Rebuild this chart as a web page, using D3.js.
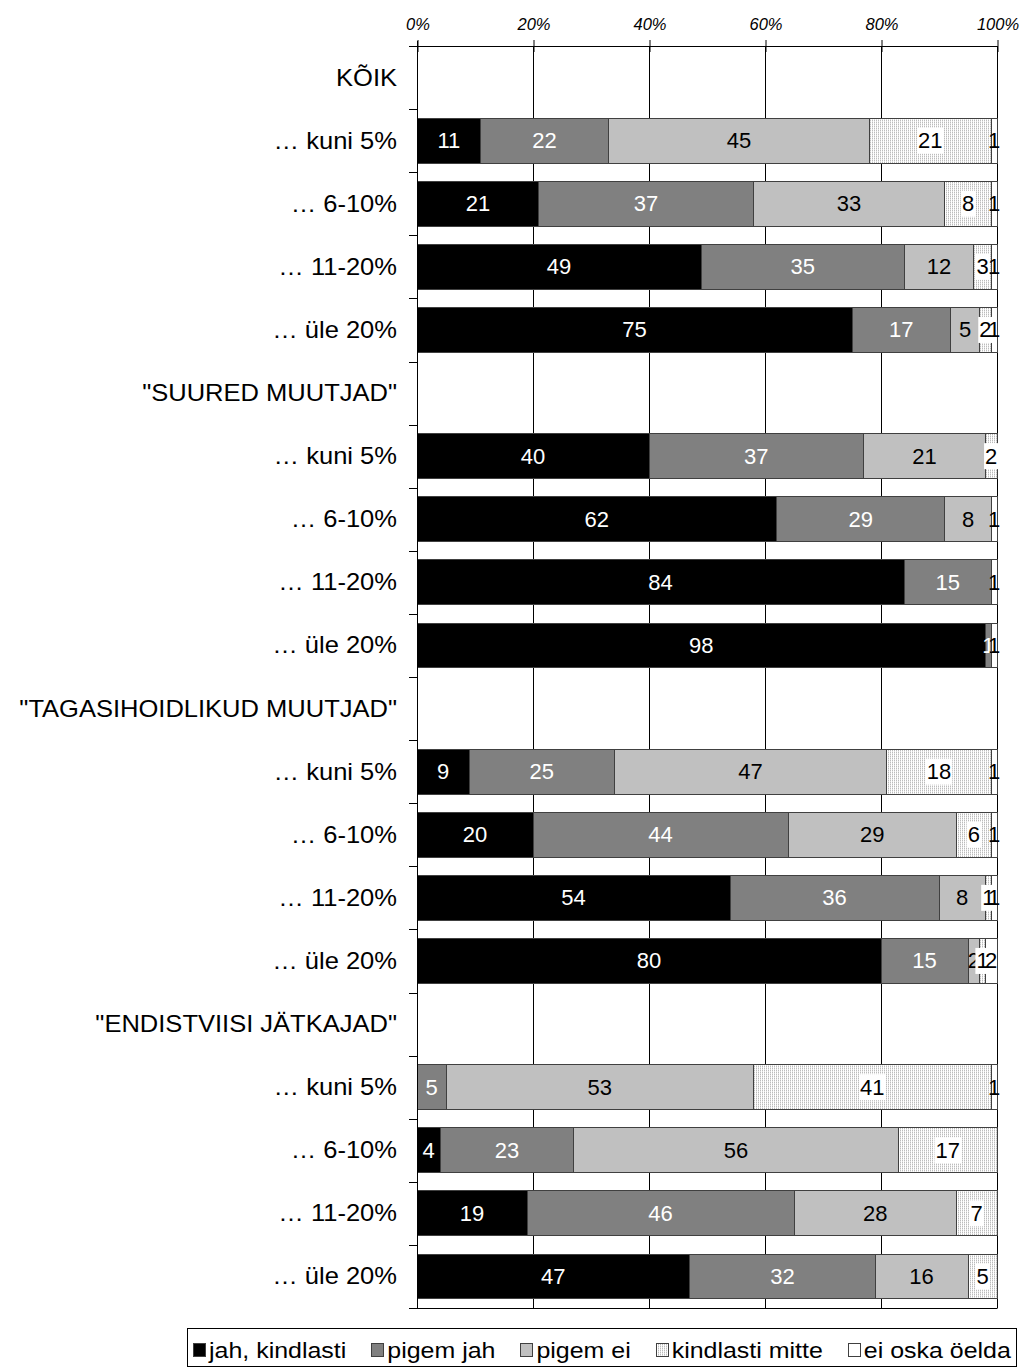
<!DOCTYPE html>
<html>
<head>
<meta charset="utf-8">
<script src="https://cdn.jsdelivr.net/npm/d3@7"></script>
<style>
body { margin: 0; background: #fff; }
svg { display: block; font-family: Arial, "Liberation Sans", sans-serif; }
</style>
</head>
<body>
<svg id="chart" width="1026" height="1368"></svg>
<script>
const categories = [
  "KÕIK", "… kuni 5%", "… 6-10%", "… 11-20%", "… üle 20%",
  "\"SUURED MUUTJAD\"", "… kuni 5%", "… 6-10%", "… 11-20%", "… üle 20%",
  "\"TAGASIHOIDLIKUD MUUTJAD\"", "… kuni 5%", "… 6-10%", "… 11-20%", "… üle 20%",
  "\"ENDISTVIISI JÄTKAJAD\"", "… kuni 5%", "… 6-10%", "… 11-20%", "… üle 20%"
];
const seriesNames = ["jah, kindlasti", "pigem jah", "pigem ei", "kindlasti mitte", "ei oska öelda"];
const jahKindlasti   = [null, 11, 21, 49, 75, null, 40, 62, 84, 98, null, 9, 20, 54, 80, null, 0, 4, 19, 47];
const pigemJah       = [null, 22, 37, 35, 17, null, 37, 29, 15, 1, null, 25, 44, 36, 15, null, 5, 23, 46, 32];
const pigemEi        = [null, 45, 33, 12, 5, null, 21, 8, 0, 0, null, 47, 29, 8, 2, null, 53, 56, 28, 16];
const kindlastiMitte = [null, 21, 8, 3, 2, null, 2, 0, 0, 0, null, 18, 6, 1, 1, null, 41, 17, 7, 5];
const eiOska         = [null, 1, 1, 1, 1, null, 0, 1, 1, 1, null, 1, 1, 1, 2, null, 1, 0, 0, 0];
const tickLabels = ["0%", "20%", "40%", "60%", "80%", "100%"];

const seriesValues = [jahKindlasti, pigemJah, pigemEi, kindlastiMitte, eiOska];
const keys = ["s0", "s1", "s2", "s3", "s4"];
const rows = categories.map((c, i) => {
  const r = { idx: i, cat: c };
  keys.forEach((k, j) => r[k] = seriesValues[j][i] == null ? 0 : seriesValues[j][i]);
  return r;
});

const svg = d3.select("#chart");
const defs = svg.append("defs");
const pat = defs.append("pattern").attr("id", "dots").attr("patternUnits", "userSpaceOnUse")
  .attr("width", 2).attr("height", 2);
pat.append("rect").attr("width", 2).attr("height", 2).attr("fill", "#ffffff");
pat.append("rect").attr("x", 0).attr("y", 0).attr("width", 1).attr("height", 1).attr("fill", "#bcbcbc");
pat.append("rect").attr("x", 0).attr("y", 1).attr("width", 1).attr("height", 1).attr("fill", "#e2e2e2");

const fills = ["#000000", "#808080", "#c0c0c0", "url(#dots)", "#ffffff"];
const textColors = ["#ffffff", "#ffffff", "#000000", "#000000", "#000000"];

const SX = 1.11; // horizontal stretch of the reference lettering
const x0 = 417, x1 = 997, yTop = 46, yBot = 1308;
const x = d3.scaleLinear().domain([0, 100]).range([x0, x1]);
const y = d3.scaleBand().domain(d3.range(categories.length)).range([yTop, yBot])
  .paddingInner(0.29).paddingOuter(0.145);

// gridlines
const tickVals = [0, 20, 40, 60, 80, 100];
svg.append("g").selectAll("line").data(tickVals.slice(1)).join("line")
  .attr("x1", d => Math.round(x(d)) + 0.5).attr("x2", d => Math.round(x(d)) + 0.5)
  .attr("y1", yTop).attr("y2", yBot)
  .attr("stroke", "#000").attr("stroke-width", 1);

// bars
const stacked = d3.stack().keys(keys)(rows);
const barG = svg.append("g");
stacked.forEach((layer, si) => {
  barG.append("g").selectAll("rect").data(layer.filter(d => d[1] - d[0] > 0)).join("rect")
    .attr("x", d => x(d[0]))
    .attr("y", d => y(d.data.idx))
    .attr("width", d => x(d[1]) - x(d[0]))
    .attr("height", y.bandwidth())
    .attr("fill", fills[si])
    .attr("stroke", "#404040").attr("stroke-width", 1)
    .attr("shape-rendering", "crispEdges");
});

// axes
const topAxis = d3.axisTop(x).tickValues(tickVals).tickFormat((d, i) => tickLabels[i]).tickSize(6).tickSizeOuter(0);
const gTop = svg.append("g").attr("transform", `translate(0.5,${yTop})`).call(topAxis);
gTop.select(".domain").remove();
gTop.selectAll(".tick line").attr("y1", 6).attr("y2", -6).attr("stroke", "#000");
gTop.selectAll(".tick text").attr("font-size", 16.5).attr("font-style", "italic")
  .attr("font-family", "Arial, 'Liberation Sans', sans-serif").attr("fill", "#000")
  .attr("y", -16);
svg.append("line").attr("x1", 409).attr("x2", x1 + 0.5).attr("y1", yTop + 0.5).attr("y2", yTop + 0.5)
  .attr("stroke", "#000");
svg.append("line").attr("x1", x0 + 0.5).attr("x2", x0 + 0.5).attr("y1", yTop - 5).attr("y2", yBot)
  .attr("stroke", "#000");
svg.append("line").attr("x1", 409).attr("x2", x1 + 0.5).attr("y1", yBot + 0.5).attr("y2", yBot + 0.5)
  .attr("stroke", "#000");

// left category ticks at band boundaries
const step = y.step();
const bounds = d3.range(1, categories.length).map(k => yTop + k * step);
svg.append("g").selectAll("line").data(bounds).join("line")
  .attr("x1", 409).attr("x2", x0).attr("y1", d => Math.round(d) + 0.5).attr("y2", d => Math.round(d) + 0.5)
  .attr("stroke", "#000");

// category labels
svg.append("g").selectAll("text").data(categories).join("text")
  .attr("transform", (d, i) => `translate(397,${y(i) + y.bandwidth() / 2}) scale(${SX},1)`)
  .attr("text-anchor", "end").attr("dominant-baseline", "central")
  .attr("font-size", 23).attr("fill", "#000").text(d => d);

// value labels
const labG = svg.append("g");
stacked.forEach((layer, si) => {
  layer.filter(d => d[1] - d[0] > 0).forEach(d => {
    const cx = (x(d[0]) + x(d[1])) / 2;
    const cy = y(d.data.idx) + y.bandwidth() / 2;
    const txt = String(d[1] - d[0]);
    const t = labG.append("text").attr("x", cx).attr("y", cy)
      .attr("text-anchor", "middle").attr("dominant-baseline", "central")
      .attr("font-size", 22).attr("fill", textColors[si]).text(txt);
    if (si === 3) {
      const w = t.node().getComputedTextLength() + 2;
      labG.insert("rect", () => t.node()).attr("x", cx - w / 2).attr("y", cy - 13).attr("width", w).attr("height", 26)
        .attr("fill", "#fff");
    }
  });
});

// legend
const lg = svg.append("g");
lg.append("rect").attr("x", 187.5).attr("y", 1328.5).attr("width", 829).attr("height", 38)
  .attr("fill", "#fff").attr("stroke", "#000");
const sq = 12, sqGap = 4, startX = 193, endX = 1011;
const items = seriesNames.map((name, i) => {
  const t = lg.append("text").attr("dominant-baseline", "central").attr("font-size", 22.5)
    .attr("fill", "#000").text(name);
  return { t, w: t.node().getComputedTextLength() * SX, i };
});
const used = d3.sum(items, d => sq + sqGap + d.w);
const gap = (endX - startX - used) / (items.length - 1);
let cur = startX;
items.forEach(d => {
  lg.append("rect").attr("x", Math.round(cur) + 0.5).attr("y", 1343.5).attr("width", sq).attr("height", 13)
    .attr("fill", fills[d.i]).attr("stroke", "#404040");
  d.t.attr("transform", `translate(${cur + sq + sqGap},1350) scale(${SX},1)`);
  cur += sq + sqGap + d.w + gap;
});
</script>
</body>
</html>
